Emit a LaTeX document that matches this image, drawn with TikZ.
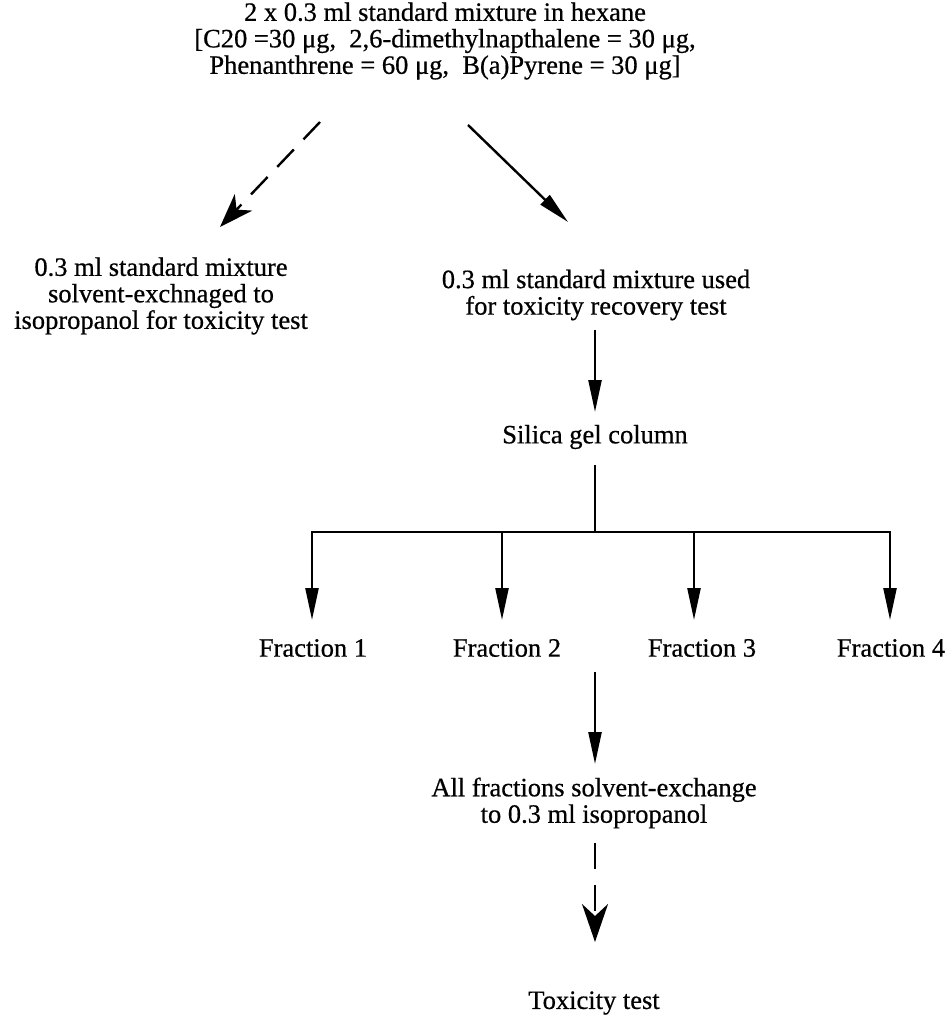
\documentclass[tikz,border=0pt]{standalone}
\usepackage{fontspec}
\setmainfont{Liberation Serif}[FakeBold=0.6]
\usetikzlibrary{arrows.meta}
\begin{document}
\begin{tikzpicture}[x=1pt,y=-1pt,
  lbl/.style={align=center, font=\fontsize{26.5}{26.5}\selectfont, inner sep=0pt},
  conn/.style={line width=2.4pt, -{Triangle[length=32pt,width=13pt]}},
  dconn/.style={line width=2.4pt, dash pattern=on 24pt off 14pt, -{Stealth[length=34pt,width=24pt,inset=10pt]}},
  plainline/.style={line width=2.4pt}]
\useasboundingbox (0,0) rectangle (951,1030);

\node[lbl] (top) at (445,41) {2 x 0.3 ml standard mixture in hexane\\
{[}C20 =30 μg,\ \ 2,6-dimethylnapthalene = 30 μg,\\
Phenanthrene = 60 μg,\ \ B(a)Pyrene = 30 μg]};
\node[lbl] (left) at (161,296) {0.3 ml standard mixture\\ solvent-exchnaged to\\ isopropanol for toxicity test};
\node[lbl] (right) at (596,295) {0.3 ml standard mixture used\\ for toxicity recovery test};
\node[lbl] (silica) at (595,437) {Silica gel column};
\node[lbl] (f1) at (313,648) {Fraction 1};
\node[lbl] (f2) at (507,648) {Fraction 2};
\node[lbl] (f3) at (702,648) {Fraction 3};
\node[lbl] (f4) at (891,648) {Fraction 4};
\node[lbl] (all) at (594,803) {All fractions solvent-exchange\\ to 0.3 ml isopropanol};
\node[lbl] (tox) at (594,1003) {Toxicity test};

\coordinate (dA) at (320,122);
\coordinate (dB) at (220,227);
\coordinate (sA) at (468,125);
\coordinate (sB) at (568,222);
\coordinate (rA) at (595,330);
\coordinate (rB) at (595,412);
\coordinate (cA) at (595,465);
\coordinate (bus) at (595,532);
\coordinate (b1) at (312,532);
\coordinate (b2) at (502,532);
\coordinate (b3) at (694,532);
\coordinate (b4) at (890,532);
\coordinate (e1) at (312,620);
\coordinate (e2) at (502,620);
\coordinate (e3) at (694,620);
\coordinate (e4) at (890,620);
\coordinate (gA) at (595,672);
\coordinate (gB) at (595,764);
\coordinate (hA) at (595,843);
\coordinate (hB) at (595,942);

\draw[dconn] (dA) -- (dB);
\draw[conn] (sA) -- (sB);
\draw[conn] (rA) -- (rB);
\draw[plainline] (cA) -- (bus);
\draw[plainline, line cap=rect] (b1) -- (b4);
\draw[conn] (b1) -- (e1);
\draw[conn] (b2) -- (e2);
\draw[conn] (b3) -- (e3);
\draw[conn] (b4) -- (e4);
\draw[conn] (gA) -- (gB);
\draw[dconn, dash pattern=on 26pt off 16pt, -{Stealth[length=38pt,width=26pt,inset=12pt]}] (hA) -- (hB);
\end{tikzpicture}
\end{document}
